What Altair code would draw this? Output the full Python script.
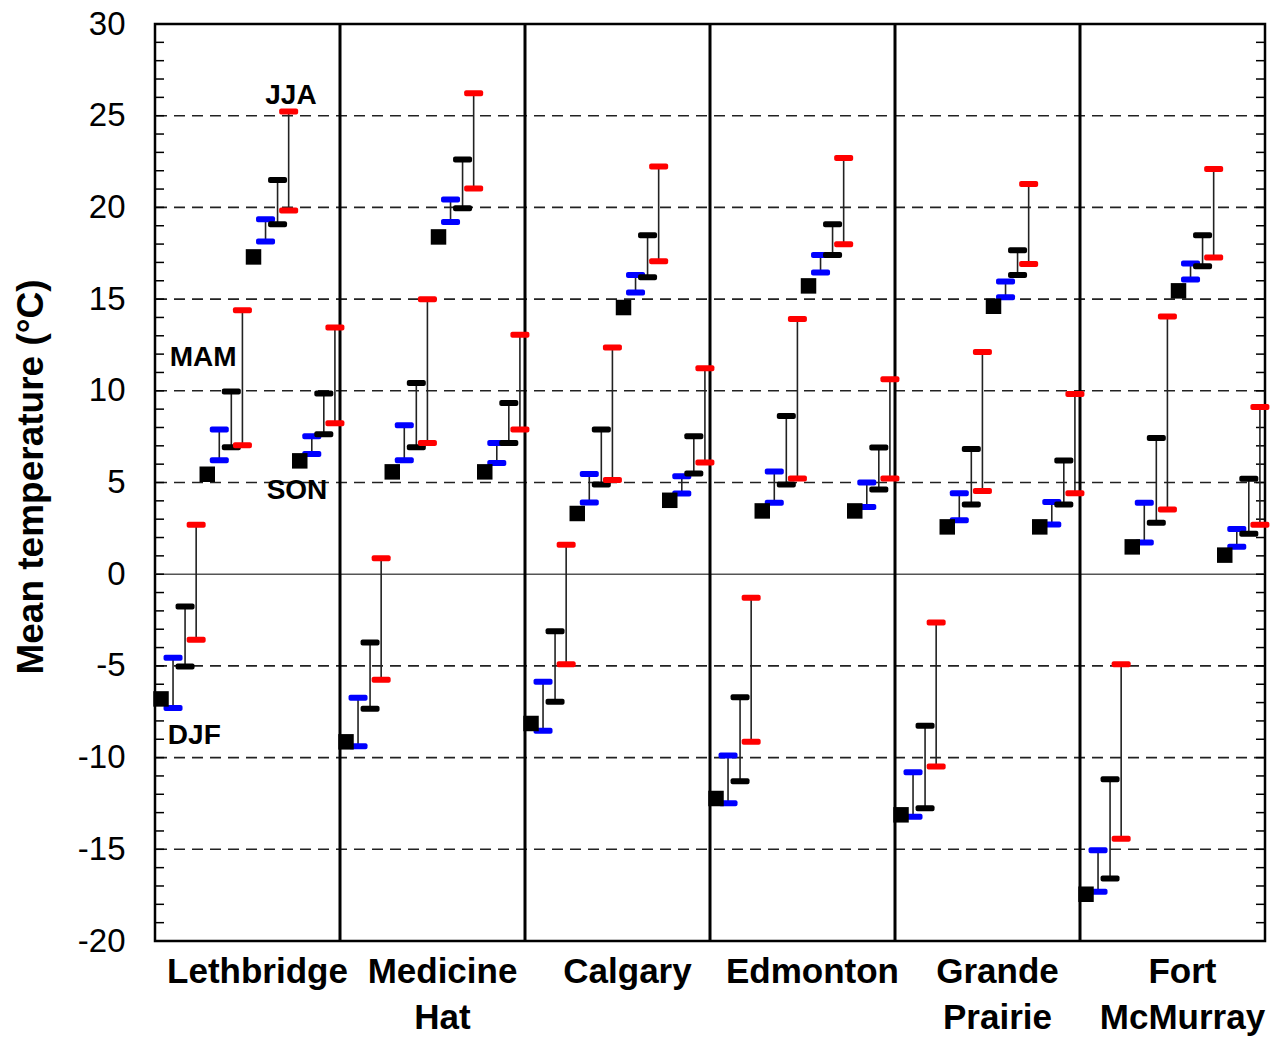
import altair as alt
import pandas as pd

stations = ["Lethbridge", "Medicine Hat", "Calgary", "Edmonton", "Grande Prairie", "Fort McMurray"]
station_labels = ["Lethbridge", "Medicine\nHat", "Calgary", "Edmonton", "Grande\nPrairie", "Fort\nMcMurray"]
seasons = ["DJF", "MAM", "JJA", "SON"]

# values: station-major, season order DJF, MAM, JJA, SON
base = [-6.8, 5.45, 17.3, 6.18,
        -9.14, 5.58, 18.39, 5.58,
        -8.14, 3.31, 14.54, 4.03,
        -12.23, 3.45, 15.72, 3.45,
        -13.12, 2.58, 14.61, 2.58,
        -17.45, 1.49, 15.45, 1.04]
blue_lo = [-7.3, 6.22, 18.14, 6.56,
           -9.38, 6.22, 19.21, 6.07,
           -8.54, 3.91, 15.36, 4.40,
           -12.49, 3.89, 16.45, 3.67,
           -13.23, 2.94, 15.10, 2.71,
           -17.32, 1.73, 16.07, 1.49]
blue_hi = [-4.55, 7.89, 19.36, 7.52,
           -6.74, 8.12, 20.43, 7.16,
           -5.87, 5.47, 16.32, 5.34,
           -9.89, 5.60, 17.41, 5.00,
           -10.8, 4.42, 15.96, 3.93,
           -15.05, 3.89, 16.94, 2.47]
black_lo = [-5.03, 6.92, 19.08, 7.63,
            -7.34, 6.92, 19.96, 7.16,
            -6.96, 4.89, 16.19, 5.49,
            -11.29, 4.89, 17.41, 4.62,
            -12.76, 3.80, 16.32, 3.80,
            -16.59, 2.80, 16.79, 2.20]
black_hi = [-1.76, 9.96, 21.5, 9.85,
            -3.73, 10.43, 22.61, 9.34,
            -3.11, 7.89, 18.48, 7.52,
            -6.71, 8.63, 19.08, 6.91,
            -8.27, 6.82, 17.67, 6.20,
            -11.18, 7.42, 18.48, 5.20]
red_lo = [-3.58, 7.03, 19.83, 8.23,
          -5.76, 7.16, 21.03, 7.89,
          -4.91, 5.13, 17.07, 6.09,
          -9.14, 5.22, 17.99, 5.22,
          -10.49, 4.53, 16.92, 4.42,
          -14.43, 3.53, 17.27, 2.69]
red_hi = [2.69, 14.39, 25.23, 13.45,
          0.87, 14.99, 26.23, 13.05,
          1.60, 12.36, 22.23, 11.23,
          -1.29, 13.92, 22.70, 10.63,
          -2.63, 12.12, 21.28, 9.83,
          -4.91, 14.05, 22.10, 9.11]

y_ticks = [-20, -15, -10, -5, 0, 5, 10, 15, 20, 25, 30]
grid_vals = [-15, -10, -5, 5, 10, 15, 20, 25]
minor_vals = list(range(-19, 30))

# season-label annotations (data coordinates)
ann_text = ["JJA", "MAM", "SON", "DJF"]
ann_x = [2.94, 1.04, 3.07, 0.85]
ann_y = [26.06, 11.78, 4.53, -8.8]

OFF = {"base": 0.13, "blue": 0.39, "black": 0.65, "red": 0.89}
series = {"blue": (blue_lo, blue_hi), "black": (black_lo, black_hi), "red": (red_lo, red_hi)}

cap_rows, rule_rows, sq_rows = [], [], []
for i in range(len(stations)):
    for j in range(len(seasons)):
        k = i * 4 + j
        xb = i * 4 + j
        sq_rows.append({"x": xb + OFF["base"], "y": base[k]})
        for s, (lo, hi) in series.items():
            xx = xb + OFF[s]
            rule_rows.append({"x": xx, "lo": lo[k], "hi": hi[k], "s": s})
            cap_rows.append({"x": xx, "y": lo[k], "s": s})
            cap_rows.append({"x": xx, "y": hi[k], "s": s})

caps = pd.DataFrame(cap_rows)
rules = pd.DataFrame(rule_rows)
squares = pd.DataFrame(sq_rows)
lab_df = pd.DataFrame({"x": [i * 4 + 2 for i in range(6)], "t": station_labels})
ann_df = pd.DataFrame({"x": ann_x, "y": ann_y, "t": ann_text})

W, H = 1110, 917
xs = alt.Scale(domain=[0, 24], nice=False, zero=False)
ys = alt.Scale(domain=[-20, 30], nice=False, zero=False)
FONT = "Liberation Sans"

grid = alt.Chart(pd.DataFrame({"v": grid_vals})).mark_rule(
    color="#222222", strokeWidth=1.6, strokeDash=[11, 7]
).encode(y=alt.Y("v:Q", scale=ys, axis=alt.Axis(values=y_ticks, grid=False, ticks=False, tickSize=0,
                                                  domain=False, labelFontSize=33, labelFont=FONT,
                                                  labelColor="black", labelPadding=30, title=None,
                                                  labelExpr="'' + datum.value")))

zero = alt.Chart(pd.DataFrame({"v": [0]})).mark_rule(color="#555555", strokeWidth=1.5).encode(
    y=alt.Y("v:Q", scale=ys))

seps = alt.Chart(pd.DataFrame({"v": [4, 8, 12, 16, 20]})).mark_rule(color="black", strokeWidth=3).encode(
    x=alt.X("v:Q", scale=xs, axis=None))

lt = alt.Chart(pd.DataFrame({"v": minor_vals})).mark_rule(color="black", strokeWidth=1.5).encode(
    y=alt.Y("v:Q", scale=ys), x=alt.value(0), x2=alt.value(9))
rt = alt.Chart(pd.DataFrame({"v": minor_vals})).mark_rule(color="black", strokeWidth=1.5).encode(
    y=alt.Y("v:Q", scale=ys), x=alt.value(W - 9), x2=alt.value(W))

conn = alt.Chart(rules).mark_rule(color="#222222", strokeWidth=1.6).encode(
    x=alt.X("x:Q", scale=xs, axis=None), y=alt.Y("lo:Q", scale=ys), y2="hi:Q")

cap = alt.Chart(caps).mark_tick(orient="horizontal", size=19, thickness=6, cornerRadius=2, opacity=1).encode(
    x=alt.X("x:Q", scale=xs, axis=None), y=alt.Y("y:Q", scale=ys),
    color=alt.Color("s:N", scale=alt.Scale(domain=["blue", "black", "red"],
                                           range=["#0000ff", "#000000", "#ff0000"]), legend=None))

sq = alt.Chart(squares).mark_square(size=240, color="black", opacity=1, filled=True).encode(
    x=alt.X("x:Q", scale=xs, axis=None), y=alt.Y("y:Q", scale=ys))

ann = alt.Chart(ann_df).mark_text(font=FONT, fontSize=28, fontWeight="bold", color="black",
                                  align="center", baseline="middle").encode(
    x=alt.X("x:Q", scale=xs, axis=None), y=alt.Y("y:Q", scale=ys), text="t:N")

xlab = alt.Chart(lab_df).mark_text(font=FONT, fontSize=35, fontWeight="bold", color="black",
                                   align="center", baseline="alphabetic", lineBreak="\n",
                                   lineHeight=46, dx=10).encode(
    x=alt.X("x:Q", scale=xs, axis=None), y=alt.value(H + 42), text="t:N")

ytitle = alt.Chart(pd.DataFrame({"t": ["Mean temperature (°C)"]})).mark_text(
    font=FONT, fontSize=37, fontWeight="bold", color="black", angle=270,
    align="center", baseline="middle").encode(
    x=alt.value(-123), y=alt.value(453), text="t:N")

chart = alt.layer(grid, zero, seps, lt, rt, conn, cap, sq, ann, xlab, ytitle).properties(
    width=W, height=H,
    autosize=alt.AutoSizeParams(type="none"),
    padding={"left": 155, "top": 24, "right": 11, "bottom": 96},
    background="white",
).configure_view(stroke="black", strokeWidth=2.5)

chart.save("out.html", embed_options={"renderer": "svg", "actions": False})
